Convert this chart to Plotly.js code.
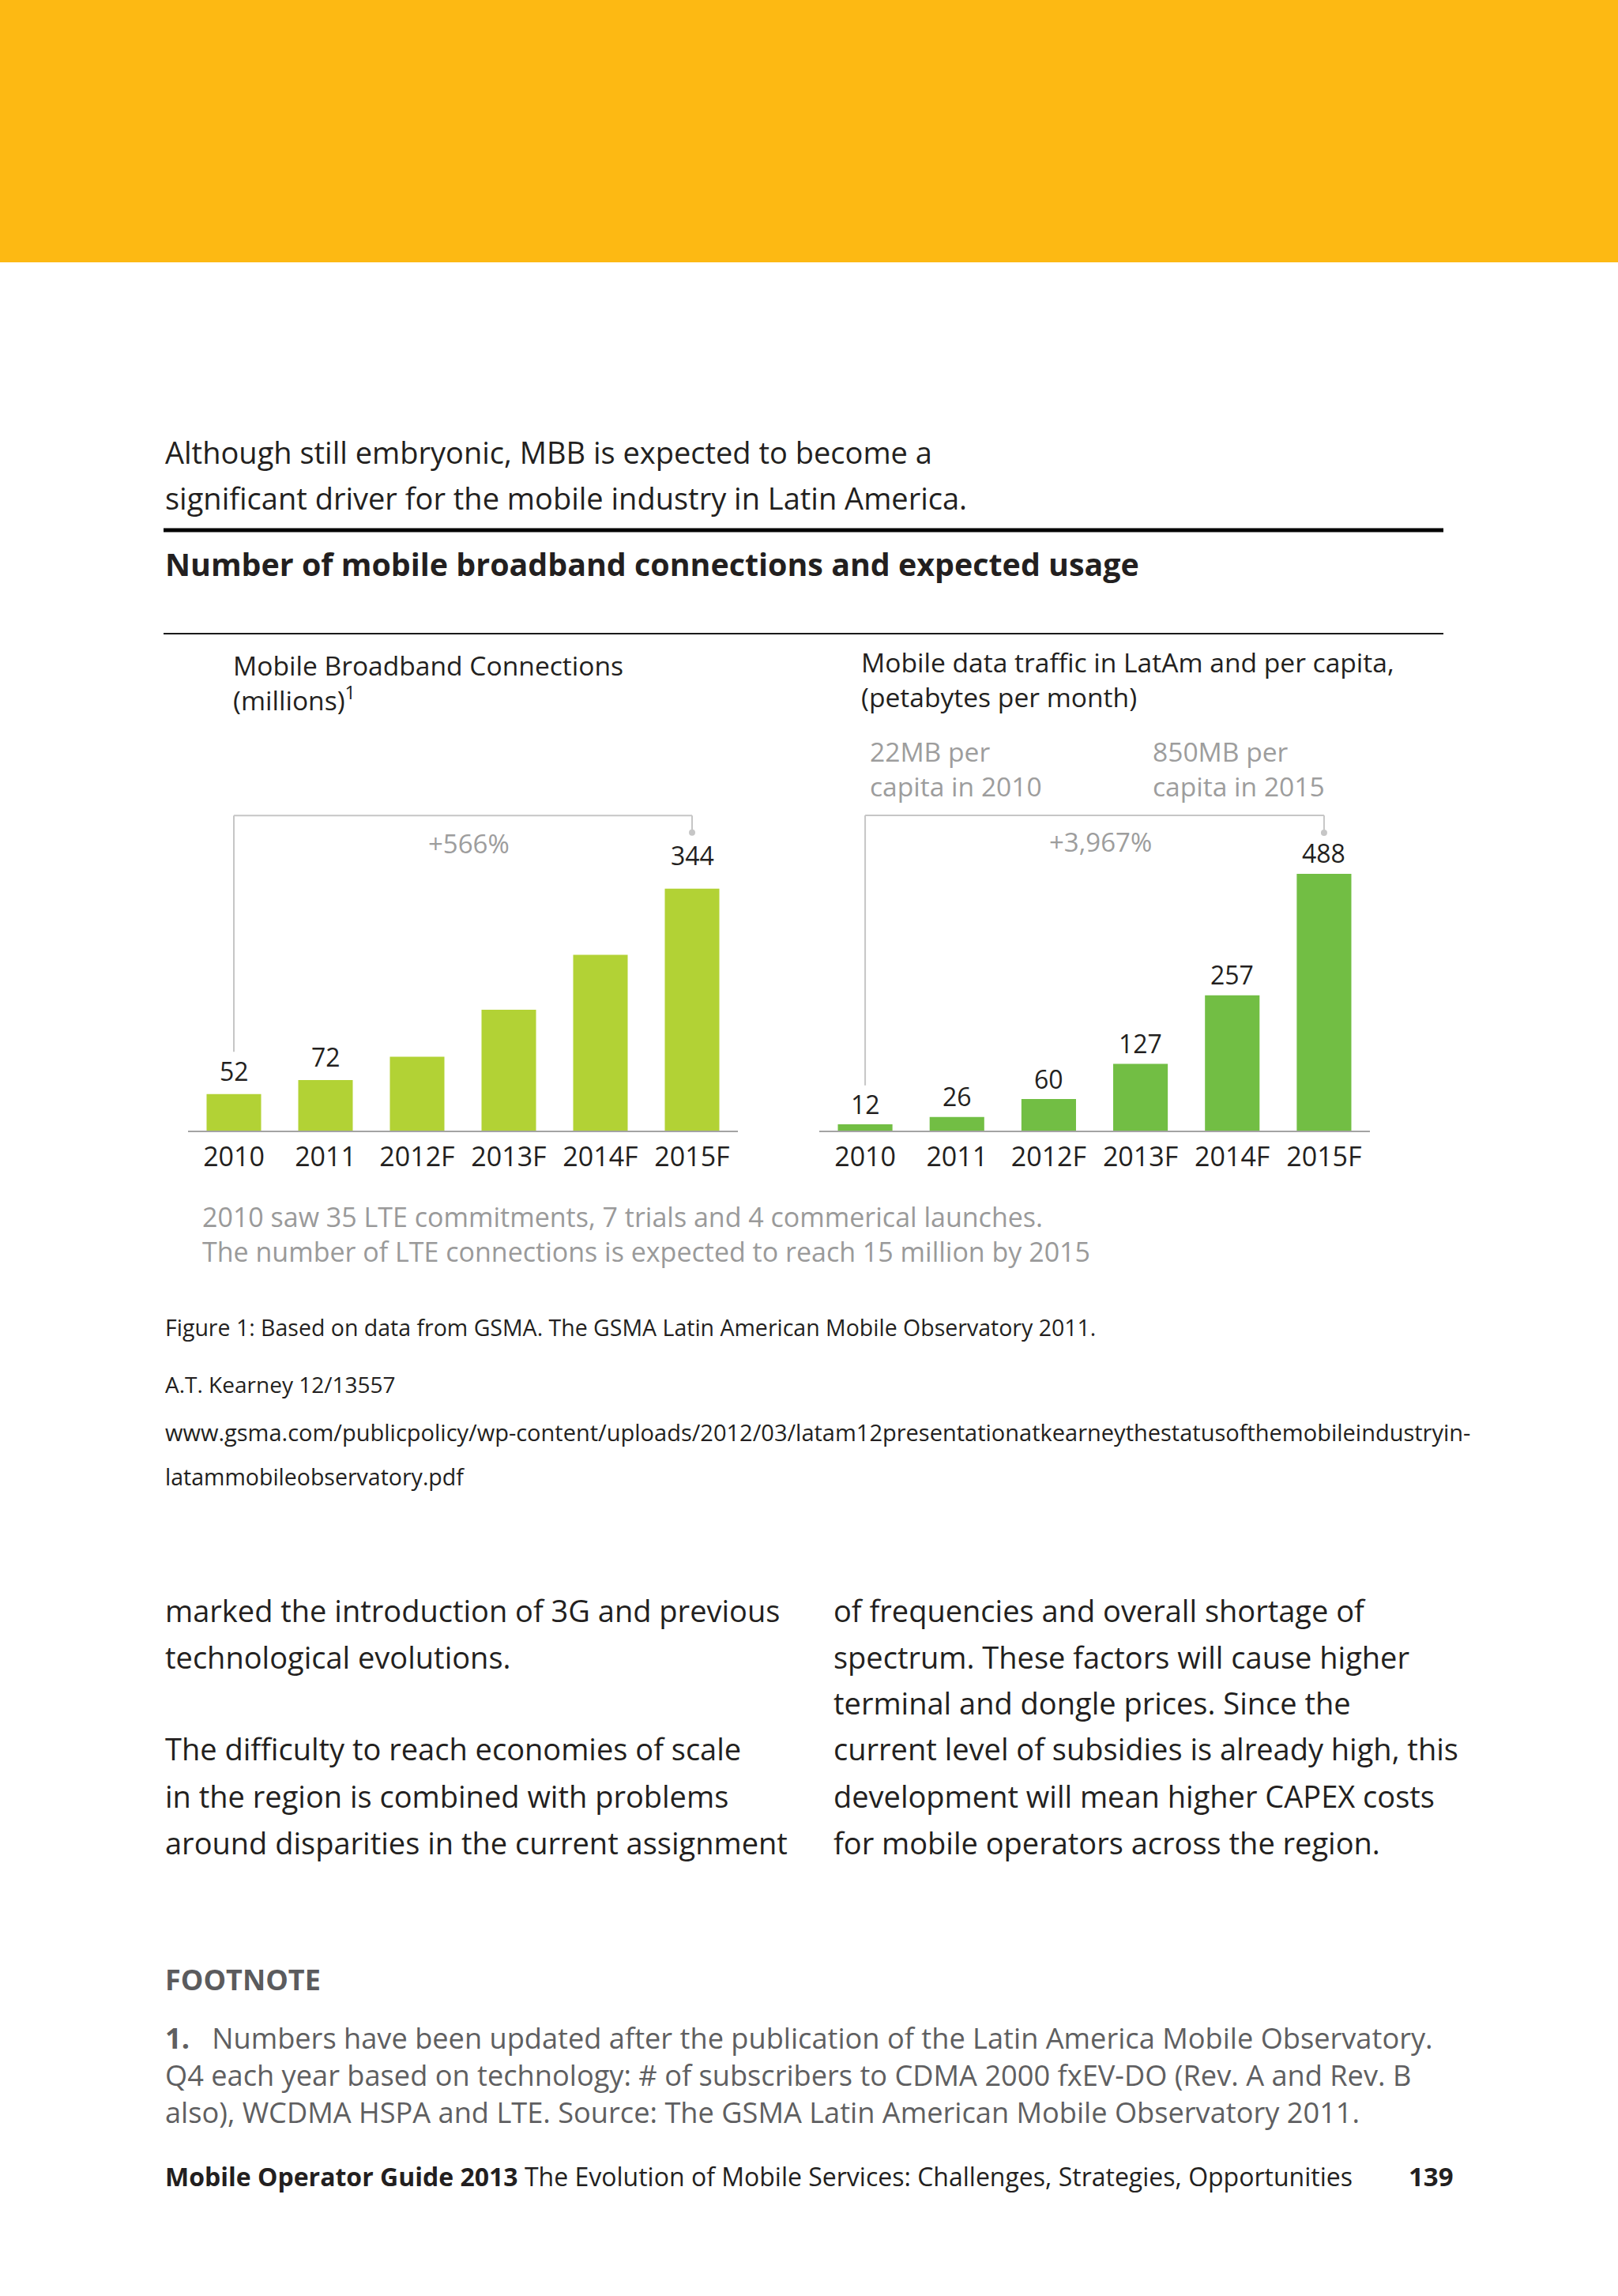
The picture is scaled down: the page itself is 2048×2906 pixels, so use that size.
<!DOCTYPE html>
<html>
<head>
<meta charset="utf-8">
<script src="https://cdn.plot.ly/plotly-3.0.1.min.js"></script>
<style>
  html, body { margin: 0; padding: 0; background: #ffffff; }
  #chart { width: 2048px; height: 2906px; }
</style>
</head>
<body>
<div id="chart"></div>
<script>
// ---------------- DATA ----------------
const categories = ['2010', '2011', '2012F', '2013F', '2014F', '2015F'];
const connections = [52, 72, 105, 172, 250, 344];          // millions
const connectionLabels = ['52', '72', '', '', '', '344'];
const traffic = [12, 26, 60, 127, 257, 488];               // petabytes per month
const trafficLabels = ['12', '26', '60', '127', '257', '488'];
const connectionsGrowth = '+566%';
const trafficGrowth = '+3,967%';
const perCapita2010 = ['22MB per', 'capita in 2010'];
const perCapita2015 = ['850MB per', 'capita in 2015'];

// ---------------- PAGE GEOMETRY ----------------
const W = 2048, H = 2906;
const px = x => x / W;
const py = y => 1 - y / H;
const FONT = '"Open Sans", Lato, sans-serif';
const INK = '#231f20';
const GREY = '#9d9d9d';
const BRACKET = '#c6c6c6';

const baseY = 1431;
const leftScale = 0.89, rightScale = 0.666;   // px per unit
const leftMax = 480, rightMax = 650;

const traces = [
  {
    type: 'bar', x: categories, y: connections, xaxis: 'x', yaxis: 'y',
    marker: { color: '#b2d235' }, hoverinfo: 'x+y'
  },
  {
    type: 'bar', x: categories, y: traffic, xaxis: 'x2', yaxis: 'y2',
    marker: { color: '#72be44' }, hoverinfo: 'x+y'
  }
];

const axisX = (domain, anchor) => ({
  domain: domain, anchor: anchor, type: 'category', fixedrange: true,
  categoryorder: 'array', categoryarray: categories,
  range: [-0.5, categories.length - 0.5], autorange: false,
  showline: true, linecolor: '#a3a3a3', linewidth: 2,
  ticks: '', showgrid: false, zeroline: false,
  tickfont: { family: FONT, size: 34, color: INK },
  ticklabelstandoff: 2
});
const axisY = (domain, range, anchor) => ({
  domain: domain, range: range, autorange: false, anchor: anchor, fixedrange: true,
  visible: false, showgrid: false, zeroline: false
});

const annotations = [];
function txt(text, x, y, size, color, opts) {
  annotations.push(Object.assign({
    xref: 'paper', yref: 'paper', x: px(x), y: py(y),
    xanchor: 'left', yanchor: 'middle', align: 'left', showarrow: false,
    text: text, font: { family: FONT, size: size, color: color }
  }, opts || {}));
}

// intro + heading
txt('Although still embryonic, MBB is expected to become a', 207, 572, 38, INK);
txt('significant driver for the mobile industry in Latin America.', 207, 630, 38, INK);
txt('<b>Number of mobile broadband connections and expected usage</b>', 207, 714, 39.4, INK);

// chart titles
txt('Mobile Broadband Connections<br>(millions)<sup>1</sup>', 293, 864, 33.6, INK);
txt('Mobile data traffic in LatAm and per capita,<br>(petabytes per month)', 1088, 860, 33.6, INK);

// per-capita notes
txt(perCapita2010.join('<br>'), 1099, 973, 33.6, GREY);
txt(perCapita2015.join('<br>'), 1457, 973, 33.6, GREY);

// growth labels
txt(connectionsGrowth, 593, 1067, 33, GREY, { xanchor: 'center', align: 'center' });
txt(trafficGrowth, 1393, 1065, 33, GREY, { xanchor: 'center', align: 'center' });

// value labels from data (x given as category index)
connections.forEach((v, i) => {
  if (!connectionLabels[i]) return;
  annotations.push({
    xref: 'x', yref: 'y', x: i, y: v, showarrow: false,
    xanchor: 'center', yanchor: 'middle', yshift: i === categories.length - 1 ? 42 : 29,
    text: connectionLabels[i], font: { family: FONT, size: 32, color: INK }
  });
});
traffic.forEach((v, i) => {
  annotations.push({
    xref: 'x2', yref: 'y2', x: i, y: v, showarrow: false,
    xanchor: 'center', yanchor: 'middle', yshift: 26,
    text: trafficLabels[i], font: { family: FONT, size: 32, color: INK }
  });
});

// notes under charts
txt('2010 saw 35 LTE commitments, 7 trials and 4 commerical launches.<br>' +
    'The number of LTE connections is expected to reach 15 million by 2015', 254, 1562, 34, '#9a9a9a');

// source lines
txt('Figure 1: Based on data from GSMA. The GSMA Latin American Mobile Observatory 2011.', 207, 1680, 28.5, INK);
txt('A.T. Kearney 12/13557', 207, 1752, 28, INK);
txt('www.gsma.com/publicpolicy/wp-content/uploads/2012/03/latam12presentationatkearneythestatusofthemobileindustryin-', 207, 1812, 29, INK);
txt('latammobileobservatory.pdf', 207, 1869, 28.5, INK);

// body columns
const leftCol = [
  ['marked the introduction of 3G and previous', 2038],
  ['technological evolutions.', 2097],
  ['The difficulty to reach economies of scale', 2213],
  ['in the region is combined with problems', 2273],
  ['around disparities in the current assignment', 2332]
];
const rightCol = [
  ['of frequencies and overall shortage of', 2038],
  ['spectrum. These factors will cause higher', 2097],
  ['terminal and dongle prices. Since the', 2155],
  ['current level of subsidies is already high, this', 2213],
  ['development will mean higher CAPEX costs', 2273],
  ['for mobile operators across the region.', 2332]
];
leftCol.forEach(([t, y]) => txt(t, 207, y, 38, INK));
rightCol.forEach(([t, y]) => txt(t, 1053, y, 38, INK));

// footnote
const FN = '#5f5f61';
txt('<b>FOOTNOTE</b>', 207, 2505, 36, '#5b5b5d');
txt('<b>1.</b>&nbsp;&nbsp;&nbsp;Numbers have been updated after the publication of the Latin America Mobile Observatory.<br>' +
    'Q4 each year based on technology: # of subscribers to CDMA 2000 fxEV-DO (Rev. A and Rev. B<br>' +
    'also), WCDMA HSPA and LTE. Source: The GSMA Latin American Mobile Observatory 2011.', 207, 2626, 36.2, FN);

// footer
txt('<b>Mobile Operator Guide 2013</b> The Evolution of Mobile Services: Challenges, Strategies, Opportunities', 207, 2754, 32, INK);
txt('<b>139</b>', 1781, 2754, 33, INK);

// shapes
const shapes = [
  { type: 'rect', xref: 'paper', yref: 'paper', x0: 0, x1: 1, y0: py(332), y1: 1,
    fillcolor: '#fdb913', line: { width: 0 }, layer: 'below' },
  { type: 'line', xref: 'paper', yref: 'paper', x0: px(207), x1: px(1827), y0: py(671), y1: py(671),
    line: { color: '#000000', width: 5 } },
  { type: 'line', xref: 'paper', yref: 'paper', x0: px(207), x1: px(1827), y0: py(802), y1: py(802),
    line: { color: '#1a1a1a', width: 2 } }
];

// growth brackets: from first to last category (category indices)
function bracket(xr, yr, top, leftBottom, rightBottom) {
  const ln = { color: BRACKET, width: 2 };
  const a = 0, b = categories.length - 1;
  shapes.push({ type: 'line', xref: xr, yref: yr, x0: a, x1: a, y0: leftBottom, y1: top, line: ln });
  shapes.push({ type: 'line', xref: xr, yref: yr, x0: a, x1: b, y0: top, y1: top, line: ln });
  shapes.push({ type: 'line', xref: xr, yref: yr, x0: b, x1: b, y0: top, y1: rightBottom, line: ln });
  shapes.push({ type: 'circle', xref: xr, yref: yr, xsizemode: 'pixel', ysizemode: 'pixel',
    xanchor: b, yanchor: rightBottom, x0: -4, x1: 4, y0: -4, y1: 4,
    fillcolor: BRACKET, line: { width: 0 } });
}
bracket('x', 'y', 448, 112, 424);
bracket('x2', 'y2', 599, 86, 566);

const layout = {
  width: W, height: H,
  margin: { l: 0, r: 0, t: 0, b: 0 },
  paper_bgcolor: '#ffffff', plot_bgcolor: 'rgba(0,0,0,0)',
  showlegend: false, bargap: 0.405,
  font: { family: FONT, color: INK },
  xaxis: axisX([px(238), px(934)], 'y'),
  yaxis: axisY([py(baseY), py(baseY - leftMax * leftScale)], [0, leftMax], 'x'),
  xaxis2: axisX([px(1037), px(1734)], 'y2'),
  yaxis2: axisY([py(baseY), py(baseY - rightMax * rightScale)], [0, rightMax], 'x2'),
  annotations: annotations,
  shapes: shapes
};

Plotly.newPlot('chart', traces, layout, { displayModeBar: false, staticPlot: true });
</script>
</body>
</html>
